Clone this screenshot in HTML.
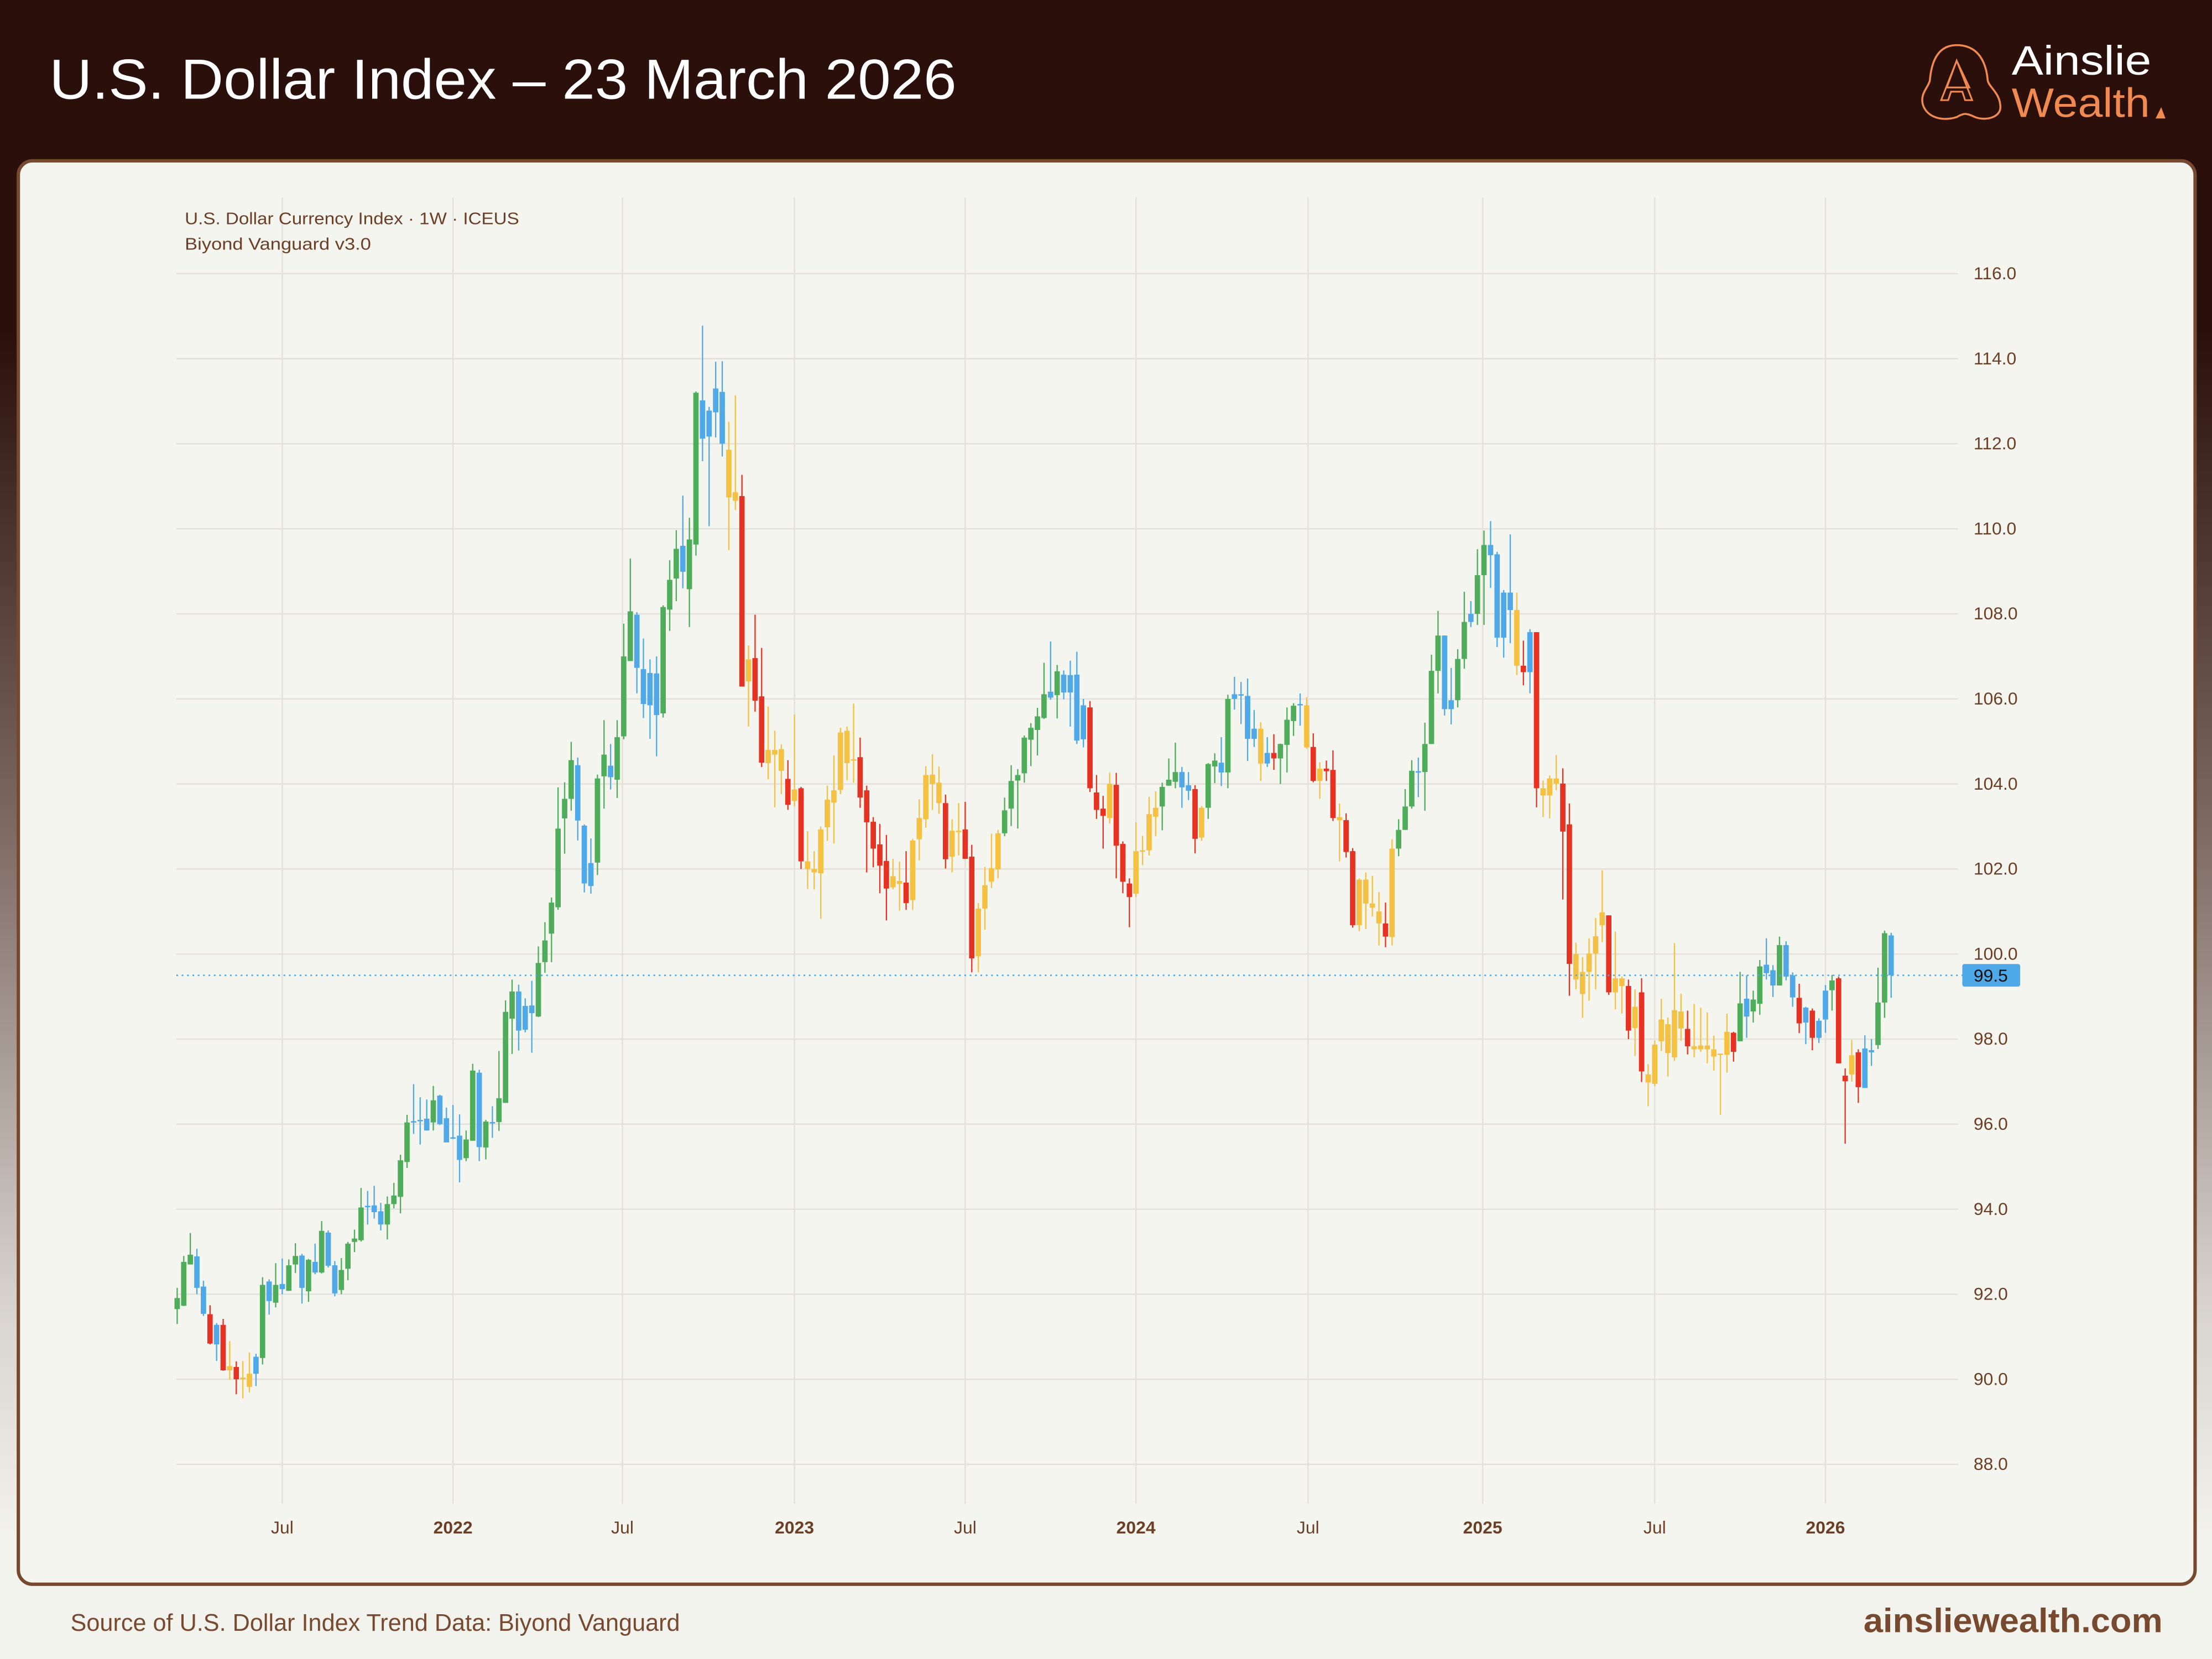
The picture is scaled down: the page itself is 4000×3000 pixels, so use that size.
<!DOCTYPE html>
<html><head><meta charset="utf-8"><title>U.S. Dollar Index – 23 March 2026</title>
<style>html,body{margin:0;padding:0;background:#f3f3ee;}svg{display:block;}</style></head>
<body>
<svg id="root" xmlns="http://www.w3.org/2000/svg" width="4000" height="3000" viewBox="0 0 1568 1176" font-family="'Liberation Sans', sans-serif">
<defs>
<linearGradient id="bgGrad" x1="0" y1="0" x2="0" y2="1">
<stop offset="0" stop-color="#2b0f0a"/><stop offset="0.2" stop-color="#2b0f0a"/>
<stop offset="0.5" stop-color="#7d6a63"/><stop offset="0.78" stop-color="#d6d1cc"/>
<stop offset="0.93" stop-color="#f3f3ee"/><stop offset="1" stop-color="#f3f3ee"/>
</linearGradient>
</defs>
<rect x="0" y="0" width="1568" height="1176" fill="url(#bgGrad)"/>
<rect x="0" y="0" width="1568" height="112" fill="#2b0f0a"/>
<text x="35" y="70" font-size="40" fill="#ffffff" textLength="643" lengthAdjust="spacingAndGlyphs">U.S. Dollar Index – 23 March 2026</text>
<g>
<path d="M1387 32 C1403 32 1408 45 1409 57 C1410 62 1418 66 1418 76 C1418 83 1408 86 1400 83 C1394 80 1392 80 1387 83 C1378 86 1366 84 1363 74 C1361 66 1367 62 1368 57 C1369 45 1373 32 1387 32 Z" fill="none" stroke="#f08a50" stroke-width="1.4"/>
<path d="M1387 43 L1380 62 L1396 62 Z M1376 71 L1387 43 L1398 71 L1393 71 L1391 65 L1383 65 L1381 71 Z" fill="none" stroke="#f08a50" stroke-width="1.2"/>
<text x="1426" y="53" font-size="29" fill="#ffffff" textLength="99" lengthAdjust="spacingAndGlyphs">Ainslie</text>
<text x="1426" y="83" font-size="29" fill="#f08a50" textLength="98" lengthAdjust="spacingAndGlyphs">Wealth</text>
<path d="M1528 84 L1532 76 L1535 84 Z" fill="#f08a50"/>
</g>
<rect x="13" y="114" width="1543" height="1009" rx="10" fill="#f5f5f0" stroke="#774a30" stroke-width="2.4"/>
<g id="grid"></g>
<g id="yaxis"></g>
<g id="xaxis"></g>
<g id="candles"></g>
<g id="lastprice"></g>
<text x="131" y="159" font-size="12" fill="#6b3f25" textLength="237" lengthAdjust="spacingAndGlyphs">U.S. Dollar Currency Index · 1W · ICEUS</text>
<text x="131" y="177" font-size="12" fill="#6b3f25" textLength="132" lengthAdjust="spacingAndGlyphs">Biyond Vanguard v3.0</text>
<text x="50" y="1156" font-size="17" fill="#774a30" textLength="432" lengthAdjust="spacingAndGlyphs">Source of U.S. Dollar Index Trend Data: Biyond Vanguard</text>
<text x="1533" y="1157" font-size="24" font-weight="bold" fill="#774a30" text-anchor="end" textLength="212" lengthAdjust="spacingAndGlyphs">ainsliewealth.com</text>
</svg>
<script>
const yTicks = [88,90,92,94,96,98,100,102,104,106,108,110,112,114,116];
const xTickLabels = ["Jul","2022","Jul","2023","Jul","2024","Jul","2025","Jul","2026"];
const xTickIndex = [16.0,42.0,67.8,94.0,120.0,146.0,172.2,198.8,225.0,251.0];
const lastPrice = 99.5;
const colorCodes = "gggbbrbryr"+"yybgbgbggb"+"gbgbbggggb"+"bbggggbbbg"+"bbbbggbgbg"+"ggbbbggggg"+"gbbbggbggg"+"bbbbgggbgg"+"bbbbyyryrr"+"yyyryryyyy"+"yyyyrrrrry"+"yryyyyyryy"+"rryyyygggg"+"gggbgbbbbr"+"rryrrryyyy"+"gggbbryggb"+"gbbbbybrgg"+"gbyryrryrr"+"yyyyrygggb"+"gggbbggbgg"+"bbbbyrbryy"+"yrryyyyyry"+"yryryyyyyy"+"ryyyyyyrgb"+"ggbbgbbrbr"+"bbgrryrbbg"+"gb";
const opens = [91.65,91.73,92.7,92.89,92.18,91.53,90.82,91.28,90.21,90.29,90.0,89.82,90.13,90.5,92.3,91.8,92.24,92.08,92.7,92.91,92.07,92.76,92.51,93.45,92.68,92.1,92.6,93.23,93.27,94.07,94.09,93.95,93.64,94.12,94.29,95.11,96.04,96.07,95.85,96.04,96.67,96.14,95.67,95.73,95.2,95.61,97.21,95.45,96.05,96.05,96.5,98.48,99.12,98.22,98.61,98.53,99.81,100.48,101.1,103.19,103.65,104.44,103.02,101.6,102.15,104.18,104.43,104.1,105.12,106.89,107.98,106.7,105.85,106.6,105.66,108.1,108.83,109.6,108.58,109.63,113.02,112.78,112.74,113.22,111.86,110.86,110.77,106.41,106.96,106.06,104.49,104.8,104.82,104.12,103.6,103.9,102.18,102.0,101.9,102.98,103.56,103.86,105.25,104.55,104.63,103.85,103.11,102.58,102.19,101.57,101.72,101.68,101.27,102.7,103.17,104.22,104.03,103.55,102.29,102.88,102.93,102.29,99.95,101.07,101.7,101.99,102.84,103.42,104.08,104.25,105.04,105.27,105.55,106.03,106.09,106.57,106.15,106.57,105.05,105.8,103.8,103.42,103.2,103.98,102.59,101.66,101.42,102.42,102.44,103.23,103.47,103.96,104.05,104.28,103.97,103.88,102.74,103.44,104.41,104.5,104.27,106.11,106.1,106.07,105.06,105.3,104.48,104.73,104.6,104.92,105.48,105.87,105.85,104.87,104.07,104.36,104.33,103.22,103.15,102.42,100.68,101.75,101.19,101.0,100.72,100.4,102.48,102.92,103.47,104.3,104.28,104.94,106.66,107.49,105.76,105.97,106.94,107.81,108.0,108.91,109.62,109.4,107.44,108.5,108.09,106.78,106.63,107.57,103.9,103.73,104.13,104.01,103.05,100.0,99.06,99.58,100.01,100.68,100.91,99.1,99.43,99.25,98.26,99.1,97.17,96.95,97.95,98.35,97.57,98.65,98.24,97.83,97.76,97.85,97.76,97.63,97.63,98.15,97.95,98.53,98.65,98.83,99.55,99.62,99.26,100.21,99.5,98.97,98.39,98.67,98.03,98.46,99.15,99.43,97.14,97.17,97.69,96.85,97.69,97.86,98.86,100.44];
const highs = [92.15,92.9,93.44,93.07,92.32,91.74,91.32,91.42,90.9,90.42,90.43,90.63,90.6,92.4,92.35,92.73,92.84,92.82,93.2,92.95,92.83,93.19,93.72,93.5,92.78,92.85,93.23,93.52,94.5,94.43,94.55,94.15,94.3,94.62,95.28,96.22,96.94,96.63,96.58,96.9,96.69,96.39,96.45,96.23,95.85,97.42,97.28,96.1,96.42,97.72,98.91,99.4,99.28,98.96,99.37,100.18,100.75,101.33,103.92,104.04,104.99,104.62,103.05,102.72,104.22,105.5,104.94,105.5,107.77,109.3,108.04,107.42,106.93,107.0,108.2,109.26,109.97,110.78,110.26,113.23,114.78,112.87,113.93,113.94,112.52,113.14,111.27,107.26,107.98,107.2,105.82,105.25,104.93,104.56,105.63,103.93,102.89,102.42,103.0,103.96,104.67,105.32,105.35,105.89,105.09,103.96,103.22,103.06,102.8,102.24,102.17,102.42,102.71,103.64,104.42,104.7,104.41,103.75,103.17,103.55,103.58,102.57,101.2,102.05,102.83,102.92,103.68,104.44,104.35,105.14,105.43,105.79,106.85,107.35,106.8,106.67,106.9,107.11,106.0,105.95,104.21,103.72,104.27,104.26,102.65,101.78,103.1,102.78,103.7,103.83,104.03,104.6,104.97,104.4,104.28,103.97,103.48,104.49,104.72,105.1,106.1,106.52,106.4,106.48,105.74,105.45,105.1,105.17,104.95,105.8,105.9,106.13,106.04,105.19,104.51,104.55,104.79,103.54,103.31,102.49,101.78,101.92,101.84,101.46,101.21,102.7,103.17,103.88,104.56,104.62,105.44,107.04,108.07,107.49,106.73,107.17,108.52,108.3,109.52,109.96,110.18,109.46,108.56,109.87,108.5,107.37,107.64,107.57,104.08,104.2,104.68,104.37,103.54,100.27,99.93,100.37,100.85,101.97,100.91,100.53,99.47,99.4,99.17,99.43,97.41,97.96,98.95,98.51,100.26,99.07,98.67,98.83,98.74,98.63,98.08,97.66,98.6,98.17,99.58,99.5,99.14,99.86,100.37,99.74,100.41,100.3,99.57,99.3,98.76,98.72,98.49,99.27,99.51,99.47,97.31,97.98,97.76,98.09,98.0,99.68,100.55,100.5];
const lows = [91.3,91.72,92.7,92.0,91.49,90.82,90.43,90.2,89.99,89.65,89.55,89.69,89.84,90.35,91.52,91.69,92.0,92.08,92.5,91.78,91.82,92.47,92.49,92.63,91.95,92.0,92.33,92.99,93.24,93.64,93.78,93.5,93.29,94.02,93.9,94.97,95.77,95.52,95.85,95.85,95.98,95.57,95.65,94.63,95.13,95.61,95.13,95.17,95.68,95.84,96.5,97.65,97.73,98.16,97.68,98.52,99.56,99.81,101.04,102.36,103.37,102.67,101.45,101.42,101.86,103.42,103.87,103.67,105.05,106.89,106.13,105.55,105.06,104.65,105.56,107.6,108.3,108.6,107.69,109.37,111.59,110.06,112.15,111.7,109.5,110.44,106.29,105.35,105.7,104.4,104.11,103.45,103.76,103.39,103.47,102.0,101.53,101.52,100.83,102.66,102.6,103.76,104.09,104.03,103.44,101.92,102.04,101.43,100.79,101.52,101.02,101.04,101.04,102.2,102.97,103.39,103.3,102.01,101.92,102.32,102.24,99.57,99.57,100.57,101.55,101.78,102.77,103.01,102.95,104.03,104.42,104.67,105.53,105.98,105.54,105.99,105.35,104.94,104.86,103.81,103.18,102.48,103.07,101.78,101.43,100.63,101.34,102.09,102.32,102.77,102.91,103.96,103.9,103.44,103.62,102.37,102.66,103.18,104.02,103.95,103.9,105.75,105.41,104.54,104.87,104.07,104.4,104.33,104.0,104.27,105.13,105.37,104.83,104.04,103.65,104.07,103.13,102.18,102.27,100.62,100.54,100.59,100.88,100.2,100.16,100.2,102.3,102.92,103.42,103.69,103.37,104.94,106.13,105.61,105.4,105.8,106.71,107.69,107.74,107.74,108.61,107.22,106.97,107.31,106.56,106.32,106.13,103.45,103.22,103.19,103.85,101.28,99.02,99.17,98.5,98.9,99.17,100.28,99.04,98.7,98.6,98.0,97.6,96.99,96.42,96.89,97.72,97.12,97.49,97.96,97.64,97.57,97.7,97.43,97.26,96.22,97.21,97.47,97.95,98.03,98.39,98.57,99.4,98.99,99.26,99.38,98.76,98.14,97.88,97.74,97.91,98.15,98.67,97.43,95.54,97.0,96.5,96.85,97.37,97.77,98.5,98.97];
const closes = [91.91,92.76,92.93,92.15,91.54,90.84,91.28,90.21,90.31,90.0,90.04,90.13,90.53,92.22,91.84,92.22,92.12,92.68,92.9,92.15,92.81,92.51,93.49,92.67,92.02,92.57,93.19,93.31,94.04,94.08,93.93,93.64,94.12,94.32,95.15,96.04,96.07,96.1,96.13,96.56,96.0,95.57,95.69,95.16,95.64,97.26,95.46,96.06,96.03,96.61,98.64,99.12,98.2,98.78,98.79,99.79,100.32,101.21,102.95,103.65,104.56,103.14,101.66,102.14,104.13,104.69,104.16,105.1,107.0,108.06,106.73,105.88,106.61,105.62,108.16,108.8,109.53,108.99,109.75,113.2,112.12,112.17,113.3,112.0,110.74,110.66,106.29,106.93,105.96,104.5,104.8,104.69,104.31,103.51,103.87,102.18,102.0,101.92,102.93,103.63,103.85,105.21,104.49,104.58,103.68,103.1,102.48,102.08,101.54,101.83,101.65,101.2,102.67,103.2,104.21,104.0,103.55,102.23,102.9,102.9,102.24,99.9,101.07,101.62,102.02,102.84,103.38,104.07,104.21,105.09,105.32,105.59,106.11,106.17,106.65,106.15,106.56,105.02,105.85,103.9,103.39,103.25,104.0,102.55,101.7,101.34,102.42,102.44,103.29,103.44,103.93,104.1,104.28,103.92,103.84,102.71,103.44,104.47,104.55,104.27,106.0,106.0,106.11,105.06,105.3,104.48,104.73,104.6,104.94,105.51,105.84,105.88,104.86,104.07,104.36,104.3,103.2,103.15,102.4,100.68,101.75,101.19,101.09,100.72,100.41,102.48,102.92,103.47,104.31,104.28,104.94,106.66,107.49,105.76,105.97,106.94,107.81,108.0,108.91,109.62,109.38,107.44,108.5,108.09,106.78,106.63,107.57,103.9,103.73,104.13,104.01,102.88,99.77,99.4,99.58,100.01,100.42,100.98,99.1,99.43,99.25,98.2,98.76,97.24,96.98,97.87,98.46,97.67,98.68,98.25,97.83,97.76,97.85,97.76,97.59,97.66,98.17,97.7,98.84,98.95,98.93,99.71,99.75,99.26,100.21,99.47,98.98,98.37,98.74,98.03,98.43,99.14,99.38,97.43,97.01,97.62,96.87,97.78,97.74,98.86,100.49,99.5];

const NS = "http://www.w3.org/2000/svg";
const plot = {x0:125, x1:1388, top:140, bottom:1066};
function yScale(p){ return 194 + (116 - p) * 30.143; }
function xScale(i){ return 125.6 + i * 4.655; }
const palette = {g:"#4fac5b", b:"#4fa9e8", y:"#f4c143", r:"#e63222"};
function mk(tag, attrs, parent){ const el=document.createElementNS(NS,tag); for(const k in attrs) el.setAttribute(k, attrs[k]); parent.appendChild(el); return el; }

const grid=document.getElementById('grid'), yaxis=document.getElementById('yaxis'), xaxis=document.getElementById('xaxis');
yTicks.forEach(function(v){
  const y=yScale(v);
  const ln=mk('line',{x1:plot.x0,x2:plot.x1,y1:y,y2:y,stroke:"#e5e0d9","stroke-width":1},grid);
  
  
  const t=mk('text',{x:1399,y:y+4,"font-size":12.5,fill:"#6b3f25"},yaxis);
  
  
  t.textContent=v.toFixed(1);
});
xTickIndex.forEach(function(idx,k){
  const x=xScale(idx);
  const ln=mk('line',{x1:x,x2:x,y1:plot.top,y2:plot.bottom,stroke:"#e5e0d9","stroke-width":1},grid);
  
  
  const lbl=xTickLabels[k]; const isYear=/^\d+$/.test(lbl);
  const t=mk('text',{x:x,y:1087,"font-size":12.5,fill:"#6b3f25","text-anchor":"middle","font-weight":isYear?"bold":"normal"},xaxis);
  
  
  t.textContent=lbl;
});
const lp=document.getElementById('lastprice');
const ly=yScale(lastPrice);
const pl=mk('line',{x1:plot.x0,x2:1391,y1:ly,y2:ly,stroke:"#4fa9e8","stroke-width":1,"stroke-dasharray":"1.2 2.6"},lp);


const pb=mk('rect',{x:1391,y:ly-8,width:41,height:16,rx:1.5,fill:"#4fa9e8"},lp);


const pt=mk('text',{x:1399,y:ly+4.5,"font-size":12.5,fill:"#111111"},lp);


pt.textContent=lastPrice.toFixed(1);

const cg=document.getElementById('candles');
for(let i=0;i<closes.length;i++){
  const col=palette[colorCodes[i]]||"#4fac5b";
  const x=xScale(i);
  const g=mk('g',{},cg);
  
  
  const w=mk('line',{x1:x,x2:x,y1:yScale(highs[i]),y2:yScale(lows[i]),stroke:col,"stroke-width":0.9},g);
  
  
  const top=yScale(Math.max(opens[i],closes[i])), bot=yScale(Math.min(opens[i],closes[i]));
  const b=mk('rect',{x:x-1.9,y:top,width:3.8,height:Math.max(1,bot-top),fill:col},g);
  
  
}
</script>
</body></html>
